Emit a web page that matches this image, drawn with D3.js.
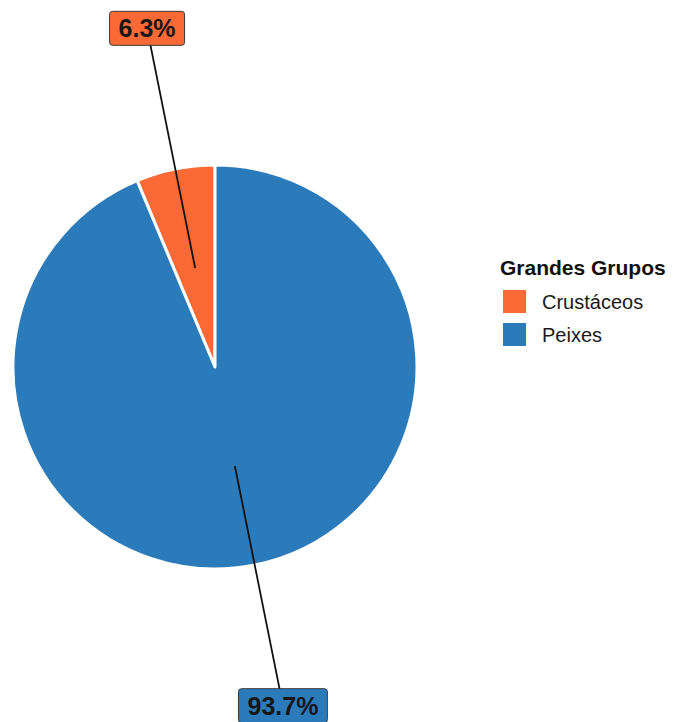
<!DOCTYPE html>
<html>
<head>
<meta charset="utf-8">
<script src="https://cdn.jsdelivr.net/npm/d3@7"></script>
<style>
  body { margin: 0; background: #fff; }
  svg { display: block; font-family: "Liberation Sans", Arial, sans-serif; }
</style>
</head>
<body>
<div id="chart"></div>
<script>
const categories = ['Crustáceos', 'Peixes'];
const values = [6.3, 93.7];
const percentLabels = ['6.3%', '93.7%'];
const colors = ['#FB6A36', '#2B7BBA'];
const legendTitle = 'Grandes Grupos';

class PieChart {
  options = {
    width: 674,
    height: 722,
    cx: 215,
    cy: 367,
    radius: 202,
  }

  constructor(elem) {
    this.elem = elem;
    this.createSvg();
    this.createData();
    this.createPies();
    this.createLabels();
    this.createLegend();
  }

  createSvg() {
    const { width, height, cx, cy } = this.options;
    this.svg = d3.select(this.elem)
      .append('svg')
      .attr('width', width)
      .attr('height', height);
    this.g = this.svg.append('g')
      .attr('transform', `translate(${cx},${cy})`);
  }

  createData() {
    const data = categories.map((key, i) => ({ key, value: values[i], label: percentLabels[i] }));
    // first slice ends at 12 o'clock, the rest goes clockwise from there
    const start = -2 * Math.PI * values[0] / d3.sum(values);
    this.color = d3.scaleOrdinal().domain(categories).range(colors);
    this.dataReady = d3.pie()
      .sort(null)
      .value((d) => d.value)
      .startAngle(start)
      .endAngle(start + 2 * Math.PI)(data);
  }

  createPies() {
    const { radius } = this.options;
    this.g.selectAll('path.piepart')
      .data(this.dataReady)
      .enter()
      .append('path')
      .attr('class', 'piepart')
      .attr('d', d3.arc().innerRadius(0).outerRadius(radius))
      .attr('fill', (d) => this.color(d.data.key))
      .attr('stroke', '#fff')
      .attr('stroke-width', 3)
      .attr('stroke-linejoin', 'round');
  }

  createLabels() {
    const { radius } = this.options;
    const inner = d3.arc().innerRadius(radius / 2).outerRadius(radius / 2);
    const outer = d3.arc().innerRadius(radius * 1.71).outerRadius(radius * 1.71);

    this.g.selectAll('line.leader')
      .data(this.dataReady)
      .enter()
      .append('line')
      .attr('class', 'leader')
      .attr('x1', (d) => inner.centroid(d)[0])
      .attr('y1', (d) => inner.centroid(d)[1])
      .attr('x2', (d) => outer.centroid(d)[0])
      .attr('y2', (d) => outer.centroid(d)[1])
      .attr('stroke', '#111')
      .attr('stroke-width', 1.8);

    const labels = this.g.selectAll('g.label')
      .data(this.dataReady)
      .enter()
      .append('g')
      .attr('class', 'label')
      .attr('transform', (d) => `translate(${outer.centroid(d)})`);

    const rects = labels.append('rect')
      .attr('fill', (d) => this.color(d.data.key))
      .attr('stroke', '#3a3a3a')
      .attr('stroke-width', 1)
      .attr('rx', 3);

    const texts = labels.append('text')
      .attr('text-anchor', 'middle')
      .attr('dy', '0.36em')
      .attr('font-size', 25)
      .attr('font-weight', 'bold')
      .attr('fill', '#161616')
      .text((d) => d.data.label);

    texts.each(function (_, i) {
      const box = this.getBBox();
      d3.select(rects.nodes()[i])
        .attr('x', box.x - 9)
        .attr('y', -17)
        .attr('width', box.width + 18)
        .attr('height', 34);
    });
  }

  createLegend() {
    const legend = this.svg.append('g')
      .attr('transform', 'translate(500,0)');

    legend.append('text')
      .attr('x', 0)
      .attr('y', 275)
      .attr('font-size', 21)
      .attr('font-weight', 'bold')
      .attr('fill', '#111')
      .text(legendTitle);

    const rows = legend.selectAll('g.legend-line')
      .data(categories)
      .enter()
      .append('g')
      .attr('class', 'legend-line')
      .attr('transform', (d, i) => `translate(3,${290 + i * 33})`);

    rows.append('rect')
      .attr('width', 23)
      .attr('height', 23)
      .attr('fill', (d) => this.color(d));

    rows.append('text')
      .attr('x', 39)
      .attr('y', 11.5)
      .attr('dy', '0.36em')
      .attr('font-size', 20)
      .attr('fill', '#1a1a1a')
      .text((d) => d);
  }
}

new PieChart('#chart');
</script>
</body>
</html>
